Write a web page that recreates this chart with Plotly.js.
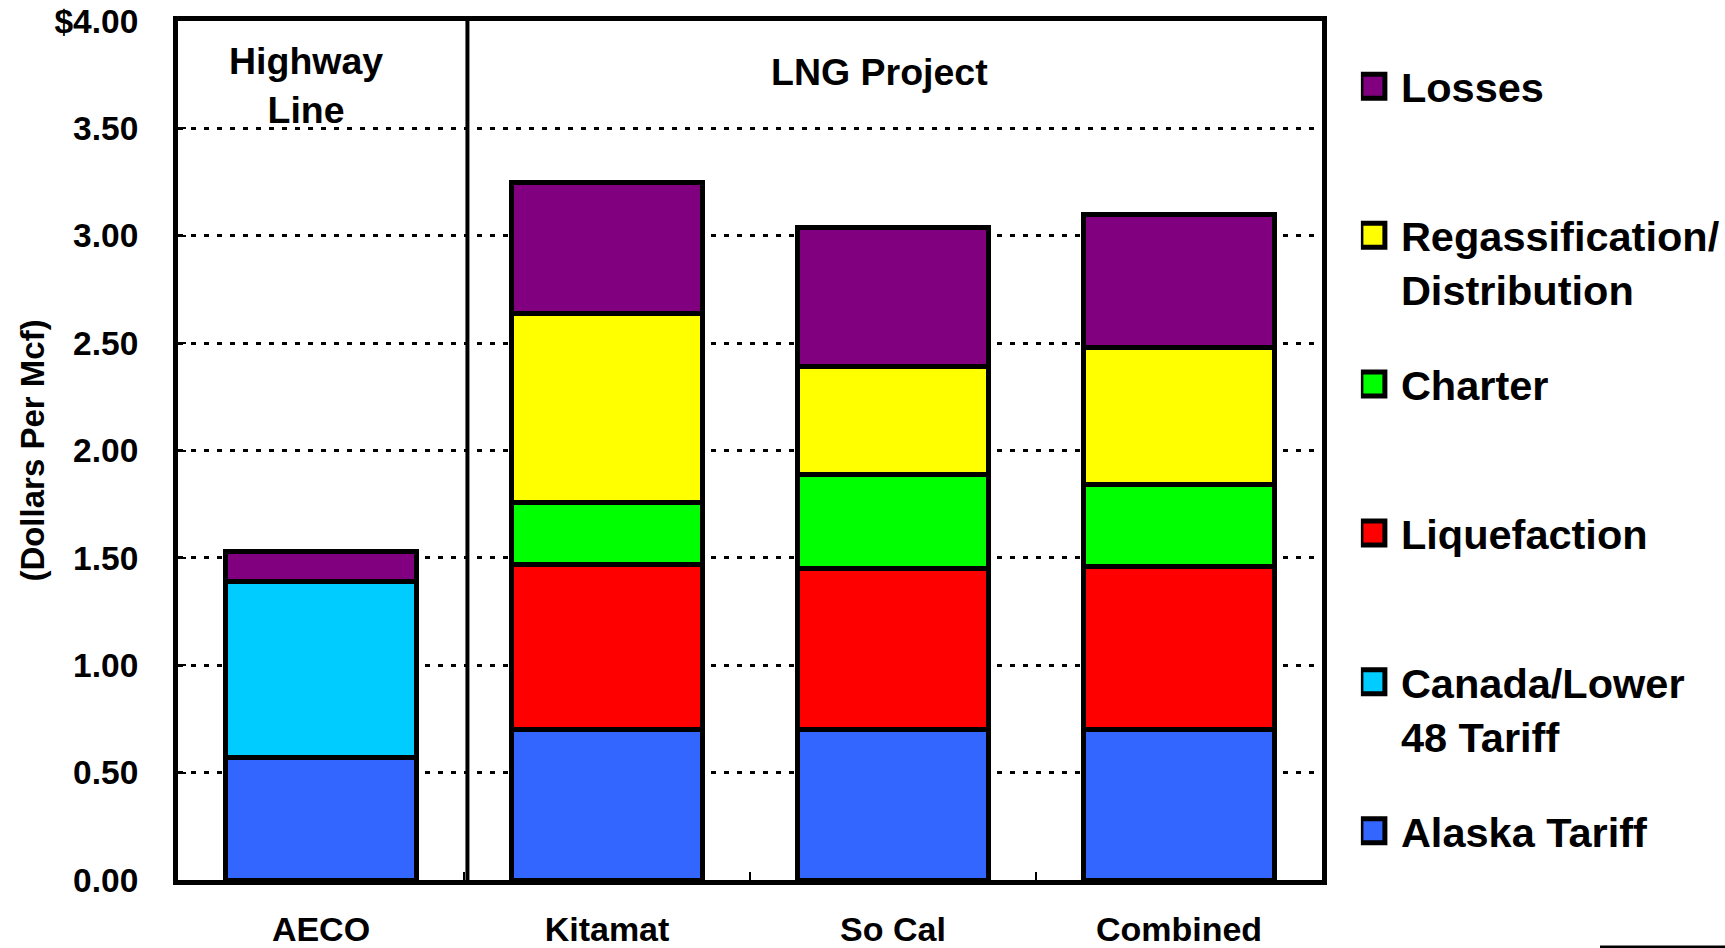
<!DOCTYPE html>
<html><head><meta charset="utf-8">
<script src="https://cdn.plot.ly/plotly-3.0.1.min.js"></script>
<style>html,body{margin:0;padding:0;background:#fff;overflow:hidden}#chart{width:1725px;height:948px}</style>
</head><body><div id="chart"></div>
<script>
const categories = ["AECO", "Kitamat", "So Cal", "Combined"];
const alaskaTariff = [0.57, 0.70, 0.70, 0.70];
const canadaTariff = [0.82, null, null, null];
const liquefaction = [null, 0.77, 0.75, 0.76];
const charter = [null, 0.29, 0.44, 0.38];
const regassification = [null, 0.88, 0.50, 0.64];
const losses = [0.14, 0.61, 0.65, 0.62];
const seriesNames = ["Alaska Tariff", "Canada/Lower<br>48 Tariff", "Liquefaction", "Charter", "Regassification/<br>Distribution", "Losses"];
const seriesColors = ["#3366FF", "#00CCFF", "#FF0000", "#00FF00", "#FFFF00", "#800080"];
const yTickVals = [0, 0.5, 1, 1.5, 2, 2.5, 3, 3.5, 4];
const yTickText = ["0.00", "0.50", "1.00", "1.50", "2.00", "2.50", "3.00", "3.50", "$4.00"];
const groupLabels = ["Highway<br>Line", "LNG Project"];
const yTitle = "(Dollars Per Mcf)";

const seriesValues = [alaskaTariff, canadaTariff, liquefaction, charter, regassification, losses];
const FONT = "Liberation Sans, Arial, sans-serif";

const traces = seriesValues.map((vals, i) => ({
  type: "bar",
  x: categories,
  y: vals,
  name: seriesNames[i].indexOf("<br>") >= 0 ? seriesNames[i] : seriesNames[i] + "<br> ",
  legendgroup: "g" + i,
  legendrank: 100 - i,
  marker: { color: seriesColors[i], line: { color: "#000", width: 5 } },
  hoverinfo: "x+y"
}));

const layout = {
  width: 1725, height: 948,
  margin: { l: 178, r: 403, t: 21, b: 68, autoexpand: false },
  paper_bgcolor: "#fff", plot_bgcolor: "#fff",
  barmode: "stack",
  bargap: 0.335,
  font: { family: FONT, color: "#000", weight: "bold" },
  xaxis: {
    type: "category",
    showline: true, linecolor: "#000", linewidth: 5, mirror: true,
    ticks: "inside", tickson: "boundaries", ticklen: 8, tickwidth: 2, tickcolor: "#000",
    tickfont: { family: FONT, size: 34, weight: "bold", color: "#000" },
    ticklabelstandoff: 15,
    showgrid: false, zeroline: false
  },
  yaxis: {
    range: [0, 4],
    tickvals: yTickVals, ticktext: yTickText,
    showline: true, linecolor: "#000", linewidth: 5, mirror: true,
    ticks: "inside", ticklen: 8, tickwidth: 2, tickcolor: "#000",
    tickfont: { family: FONT, size: 33.5, weight: "bold", color: "#000" },
    ticklabelstandoff: 28,
    showgrid: true, gridcolor: "#000", gridwidth: 3, griddash: "5px,8px",
    zeroline: false,
    title: { text: yTitle, font: { family: FONT, size: 33, weight: "bold", color: "#000" }, standoff: 1 }
  },
  legend: {
    x: 1.034, xanchor: "left", y: 0.963, yanchor: "top",
    traceorder: "grouped", tracegroupgap: 38, valign: "top",
    font: { family: FONT, size: 41.5, weight: "bold", color: "#000" },
    bgcolor: "rgba(0,0,0,0)", borderwidth: 0
  },
  shapes: [
    { type: "line", xref: "x", yref: "paper", x0: 0.512, x1: 0.512, y0: 0, y1: 1,
      line: { color: "#000", width: 4 }, layer: "above" },
    { type: "line", xref: "paper", yref: "paper", x0: 1.243, x1: 1.36, y0: -0.078, y1: -0.078,
      line: { color: "#000", width: 3 } }
  ],
  annotations: [
    { text: groupLabels[0], xref: "paper", yref: "paper", x: 0.112, y: 0.98, xanchor: "center", yanchor: "top",
      showarrow: false, font: { family: FONT, size: 37.5, weight: "bold", color: "#000" } },
    { text: groupLabels[1], xref: "paper", yref: "paper", x: 0.613, y: 0.941, xanchor: "center", yanchor: "middle",
      showarrow: false, font: { family: FONT, size: 37.5, weight: "bold", color: "#000" } }
  ],
  showlegend: true
};

Plotly.newPlot("chart", traces, layout, { staticPlot: true, displayModeBar: false }).then(() => {
  document.querySelectorAll("#chart .legend .legendpoints path").forEach(p => {
    p.setAttribute("d", "M4,12H-20V-12H4Z");
    p.style.strokeWidth = "5px";
    p.style.stroke = "#000";
  });
});
</script>
</body></html>
